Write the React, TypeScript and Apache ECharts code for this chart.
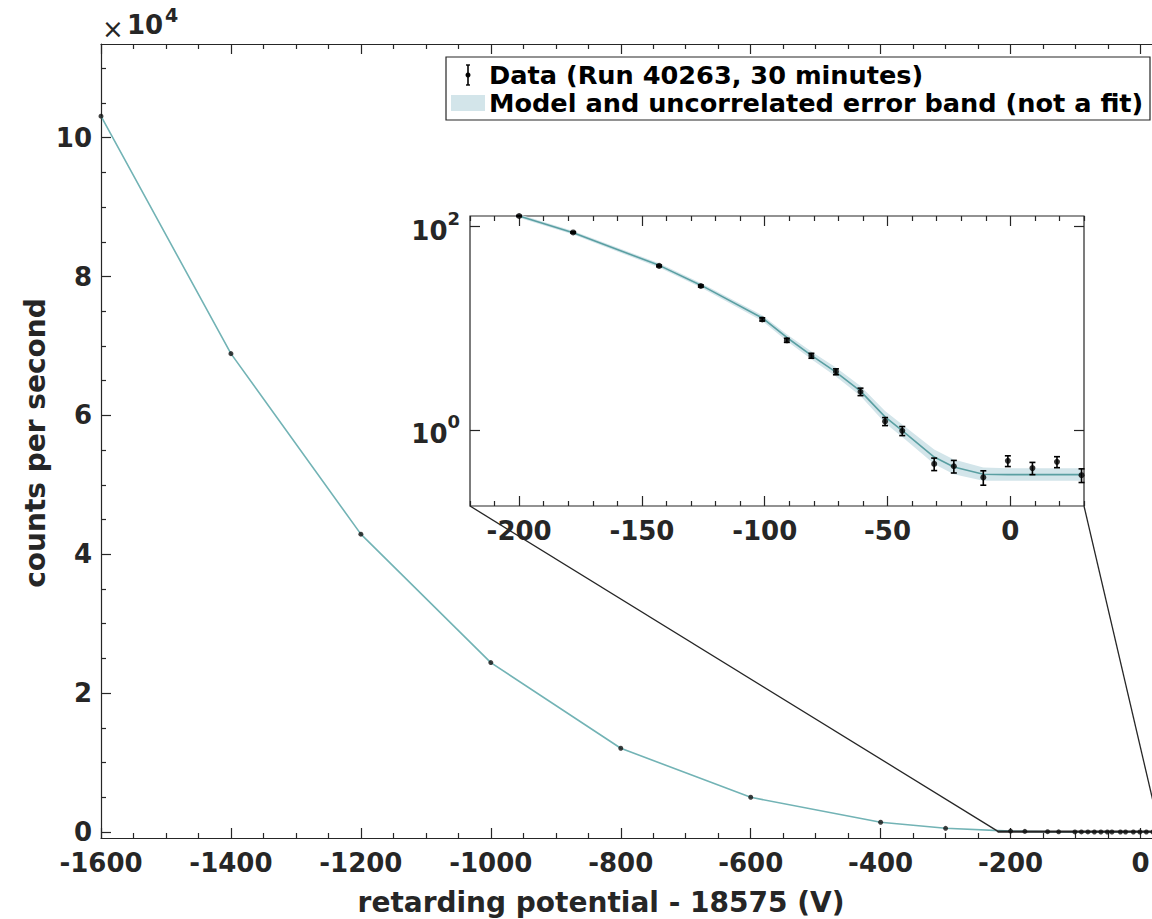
import React, { useEffect, useRef } from 'react';
import * as echarts from 'echarts';

const FONT = 'DejaVu Sans';
const TXT = '#262626';
const AX = '#262626';
const TEAL = '#5a9fa2';
const TEAL_MAIN = '#72b3b5';
const BAND = '#d3e5ea';

// ---- main panel data (counts per second) ----
const mainX = [-1600, -1400, -1200, -1000, -800, -600, -400, -300];
const mainData = [103100, 68900, 42900, 24400, 12060, 5000, 1400, 533];
const mainModel = [103100, 68900, 42900, 24400, 12060, 5000, 1400, 533];

// ---- inset (log) data ----
const insetX = [-200, -178, -143, -126, -101, -91, -81, -71, -61, -51, -44, -31, -23, -11, -1, 9, 19, 29];
const insetData = [127, 87.5, 41, 26, 12.2, 7.6, 5.36, 3.73, 2.37, 1.21, 0.977, 0.462, 0.438, 0.34, 0.495, 0.42, 0.484, 0.358];
const insetErr = [1.5, 1.2, 0.8, 0.6, 0.45, 0.35, 0.3, 0.25, 0.2, 0.11, 0.1, 0.065, 0.062, 0.055, 0.06, 0.058, 0.06, 0.055];
const modelY = [127, 87, 41.5, 26.5, 12.6, 8.1, 5.4, 3.7, 2.4, 1.34, 0.98, 0.54, 0.43, 0.366, 0.362, 0.362, 0.362, 0.362];
const bandLow = [122, 83.5, 39.5, 25.2, 11.8, 7.5, 4.95, 3.35, 2.15, 1.17, 0.85, 0.46, 0.365, 0.315, 0.315, 0.315, 0.315, 0.315];
const bandHigh = [132, 90.5, 43.5, 27.9, 13.4, 8.7, 5.9, 4.1, 2.7, 1.53, 1.13, 0.64, 0.51, 0.425, 0.418, 0.418, 0.418, 0.418];

// ---- axes ranges and ticks ----
const mainXRange = [-1600, 30];
const mainYRange = [-865, 113500];
const mainMajorY = [0, 20000, 40000, 60000, 80000, 100000];
const mainMinorY = [5000, 10000, 15000, 25000, 30000, 35000, 45000, 50000, 55000, 65000, 70000, 75000, 85000, 90000, 95000, 105000, 110000];
const insetXRange = [-220, 30];
const insetYRange = [0.178, 127];
const insetMajorX = [-200, -150, -100, -50, 0];
const insetMinorX = [-220, -210, -190, -180, -170, -160, -140, -130, -120, -110, -90, -80, -70, -60, -40, -30, -20, -10, 10, 20, 30];
const insetMajorY = [1, 100];

const legendLabels = ['Data (Run 40263, 30 minutes)', 'Model and uncorrelated error band (not a fit)'];
const xTitle = 'retarding potential - 18575 (V)';
const yTitle = 'counts per second';

export default function App() {
  const ref = useRef<HTMLDivElement>(null);
  useEffect(() => {
    document.body.style.margin = '0';
    const chart = echarts.init(ref.current!, null, { renderer: 'svg' });
    const lbl = { fontFamily: FONT, fontWeight: 'bold', fontSize: 26, color: TXT };
    const axLine = { show: true, onZero: false, lineStyle: { color: AX, width: 1.2 } };
    const noLine = { show: false, onZero: false };
    const tickMaj = (custom?: number[]) => ({ show: true, inside: true, length: 10, lineStyle: { color: AX, width: 1.2 }, ...(custom ? { customValues: custom } : {}) });
    const tickMin = (custom: number[]) => ({ show: true, inside: true, length: 5, lineStyle: { color: AX, width: 1.2 }, customValues: custom });
    const noSplit = { show: false };

    const allX = mainX.concat(insetX);
    const allData = mainData.concat(insetData);
    const allModel = mainModel.concat(modelY);

    const supRich = {
      b: { fontFamily: FONT, fontWeight: 'bold', fontSize: 26, color: TXT, lineHeight: 34, verticalAlign: 'bottom' },
      s: { fontFamily: FONT, fontWeight: 'bold', fontSize: 18, color: TXT, lineHeight: 18, verticalAlign: 'top' },
    };

    const option: any = {
      animation: false,
      backgroundColor: '#fff',
      grid: [
        { left: 101, top: 44, width: 1059, height: 794, show: false, containLabel: false, outerBoundsMode: 'none' },
        { left: 470, top: 216, width: 614, height: 290, show: true, borderColor: AX, borderWidth: 1.2, backgroundColor: '#fff', containLabel: false, outerBoundsMode: 'none', z: 5 },
      ],
      xAxis: [
        {
          type: 'value', gridIndex: 0, position: 'bottom', min: mainXRange[0], max: mainXRange[1], interval: 200,
          axisLine: axLine, axisTick: tickMaj(),
          minorTick: { show: true, splitNumber: 4, length: 5, lineStyle: { color: AX, width: 1.2 } },
          axisLabel: { ...lbl, margin: 12, showMaxLabel: false, formatter: (v: number) => (v % 200 === 0 && v <= 0 ? String(v) : '') },
          splitLine: noSplit, minorSplitLine: noSplit,
        },
        {
          type: 'value', gridIndex: 0, position: 'top', min: mainXRange[0], max: mainXRange[1], interval: 200,
          axisLine: axLine, axisTick: tickMaj(),
          minorTick: { show: true, splitNumber: 4, length: 5, lineStyle: { color: AX, width: 1.2 } },
          axisLabel: { show: false }, splitLine: noSplit,
        },
        {
          type: 'value', gridIndex: 1, position: 'bottom', min: insetXRange[0], max: insetXRange[1],
          axisLine: noLine, axisTick: tickMaj(insetMajorX),
          axisLabel: { ...lbl, margin: 12, customValues: insetMajorX, formatter: (v: number) => String(v) },
          splitLine: noSplit, z: 6,
        },
        {
          type: 'value', gridIndex: 1, position: 'bottom', min: insetXRange[0], max: insetXRange[1],
          axisLine: noLine, axisTick: tickMin(insetMinorX), axisLabel: { show: false }, splitLine: noSplit, z: 6,
        },
        {
          type: 'value', gridIndex: 1, position: 'top', min: insetXRange[0], max: insetXRange[1],
          axisLine: noLine, axisTick: tickMaj(insetMajorX), axisLabel: { show: false }, splitLine: noSplit, z: 6,
        },
        {
          type: 'value', gridIndex: 1, position: 'top', min: insetXRange[0], max: insetXRange[1],
          axisLine: noLine, axisTick: tickMin(insetMinorX), axisLabel: { show: false }, splitLine: noSplit, z: 6,
        },
      ],
      yAxis: [
        {
          type: 'value', gridIndex: 0, position: 'left', min: mainYRange[0], max: mainYRange[1],
          axisLine: axLine, axisTick: tickMaj(mainMajorY),
          axisLabel: { ...lbl, margin: 9, customValues: mainMajorY, formatter: (v: number) => String(v / 10000) },
          splitLine: noSplit,
        },
        {
          type: 'value', gridIndex: 0, position: 'left', min: mainYRange[0], max: mainYRange[1],
          axisLine: noLine, axisTick: tickMin(mainMinorY), axisLabel: { show: false }, splitLine: noSplit,
        },
        {
          type: 'log', logBase: 10, gridIndex: 1, position: 'left', min: insetYRange[0], max: insetYRange[1],
          axisLine: noLine, axisTick: tickMaj(insetMajorY),
          axisLabel: {
            margin: 10, customValues: insetMajorY, rich: supRich,
            formatter: (v: number) => (Math.abs(v - 1) < 1e-6 ? '{b|10}{s|0}' : Math.abs(v - 100) < 1e-3 ? '{b|10}{s|2}' : ''),
          },
          splitLine: noSplit, minorTick: { show: false }, z: 6,
        },
        {
          type: 'log', logBase: 10, gridIndex: 1, position: 'right', min: insetYRange[0], max: insetYRange[1],
          axisLine: noLine, axisTick: tickMaj(insetMajorY), axisLabel: { show: false },
          splitLine: noSplit, minorTick: { show: false }, z: 6,
        },
      ],
      series: [
        {
          type: 'line', xAxisIndex: 0, yAxisIndex: 0, data: allX.map((x, i) => [x, allModel[i]]),
          symbol: 'none', lineStyle: { color: TEAL_MAIN, width: 1.6 }, z: 3, silent: true,
        },
        {
          type: 'line', xAxisIndex: 0, yAxisIndex: 0,
          data: [[insetXRange[0], 0], [insetXRange[1], 0], [insetXRange[1], insetYRange[1]], [insetXRange[0], insetYRange[1]], [insetXRange[0], 0]],
          symbol: 'none', lineStyle: { color: AX, width: 1.4 }, z: 4, silent: true, clip: false,
        },
        {
          type: 'scatter', xAxisIndex: 0, yAxisIndex: 0, data: allX.map((x, i) => [x, allData[i]]),
          symbol: 'circle', symbolSize: 5, itemStyle: { color: '#111' }, z: 6, clip: false, silent: true,
        },
        {
          type: 'custom', xAxisIndex: 2, yAxisIndex: 2, data: [[insetX[0], modelY[0]]], z: 10, silent: true, clip: false,
          renderItem: (params: any, api: any) => {
            const up = insetX.map((x, i) => api.coord([x, bandHigh[i]]));
            const lo = insetX.map((x, i) => api.coord([x, bandLow[i]])).reverse();
            return { type: 'polygon', shape: { points: up.concat(lo), smooth: 0 }, style: { fill: BAND, stroke: 'none' } };
          },
        },
        {
          type: 'line', xAxisIndex: 2, yAxisIndex: 2, data: insetX.map((x, i) => [x, modelY[i]]),
          symbol: 'none', lineStyle: { color: TEAL, width: 1.6 }, z: 11, silent: true, clip: false,
        },
        {
          type: 'custom', xAxisIndex: 2, yAxisIndex: 2, z: 12, silent: true, clip: false,
          data: insetX.map((x, i) => [x, insetData[i] - insetErr[i], insetData[i] + insetErr[i]]),
          encode: { x: 0, y: [1, 2] },
          renderItem: (params: any, api: any) => {
            const x = api.value(0);
            const lo = api.coord([x, api.value(1)]);
            const hi = api.coord([x, api.value(2)]);
            const cw = 3;
            const st = { stroke: '#000', lineWidth: 1.6 };
            return {
              type: 'group',
              children: [
                { type: 'line', shape: { x1: lo[0], y1: lo[1], x2: hi[0], y2: hi[1] }, style: st },
                { type: 'line', shape: { x1: lo[0] - cw, y1: lo[1], x2: lo[0] + cw, y2: lo[1] }, style: st },
                { type: 'line', shape: { x1: hi[0] - cw, y1: hi[1], x2: hi[0] + cw, y2: hi[1] }, style: st },
              ],
            };
          },
        },
        {
          type: 'scatter', xAxisIndex: 2, yAxisIndex: 2, data: insetX.map((x, i) => [x, insetData[i]]),
          symbol: 'circle', symbolSize: 6, itemStyle: { color: '#000' }, z: 13, clip: false, silent: true,
        },
      ],
    };
    chart.setOption(option);

    const pL = chart.convertToPixel({ seriesIndex: 1 }, [insetXRange[0], insetYRange[1]]) as number[];
    const pR = chart.convertToPixel({ seriesIndex: 1 }, [insetXRange[1], insetYRange[1]]) as number[];
    const qL = chart.convertToPixel({ seriesIndex: 4 }, [insetXRange[0], insetYRange[0]]) as number[];
    const qR = chart.convertToPixel({ seriesIndex: 4 }, [insetXRange[1], insetYRange[0]]) as number[];

    const legX = 446, legY = 57, legW = 704, legH = 63;
    const legFont = { fontFamily: FONT, fontWeight: 'bold', fontSize: 25.6, fill: '#000', verticalAlign: 'middle' };
    chart.setOption({
      graphic: [
        { type: 'line', shape: { x1: qL[0], y1: qL[1], x2: pL[0], y2: pL[1] }, style: { stroke: AX, lineWidth: 1.3 }, z: 4 },
        { type: 'line', shape: { x1: qR[0], y1: qR[1], x2: pR[0], y2: pR[1] }, style: { stroke: AX, lineWidth: 1.3 }, z: 4 },
        { type: 'rect', shape: { x: legX, y: legY, width: legW, height: legH }, style: { fill: '#fff', stroke: AX, lineWidth: 1.2 }, z: 20 },
        { type: 'line', shape: { x1: 468, y1: 65, x2: 468, y2: 85 }, style: { stroke: '#000', lineWidth: 1.6 }, z: 21 },
        { type: 'line', shape: { x1: 466, y1: 65, x2: 470, y2: 65 }, style: { stroke: '#000', lineWidth: 1.4 }, z: 21 },
        { type: 'line', shape: { x1: 466, y1: 85, x2: 470, y2: 85 }, style: { stroke: '#000', lineWidth: 1.4 }, z: 21 },
        { type: 'circle', shape: { cx: 468, cy: 75, r: 2.5 }, style: { fill: '#000' }, z: 21 },
        { type: 'rect', shape: { x: 451, y: 95, width: 34, height: 16 }, style: { fill: BAND }, z: 21 },
        { type: 'text', x: 489, y: 75, style: { ...legFont, text: legendLabels[0] }, z: 21 },
        { type: 'text', x: 489, y: 103, style: { ...legFont, text: legendLabels[1] }, z: 21 },
        { type: 'text', x: 601, y: 902, style: { text: xTitle, fontFamily: FONT, fontWeight: 'bold', fontSize: 28, fill: TXT, align: 'center', verticalAlign: 'middle' }, z: 21 },
        { type: 'text', x: 35, y: 443, rotation: Math.PI / 2, style: { text: yTitle, fontFamily: FONT, fontWeight: 'bold', fontSize: 28, fill: TXT, align: 'center', verticalAlign: 'middle' }, z: 21 },
        { type: 'text', x: 102, y: 29, style: { text: '×', fontFamily: FONT, fontSize: 26, fill: TXT, verticalAlign: 'middle' }, z: 21 },
        { type: 'text', x: 127, y: 25, style: { text: '10', fontFamily: FONT, fontWeight: 'bold', fontSize: 26, fill: TXT, verticalAlign: 'middle' }, z: 21 },
        { type: 'text', x: 165, y: 15, style: { text: '4', fontFamily: FONT, fontWeight: 'bold', fontSize: 19, fill: TXT, verticalAlign: 'middle' }, z: 21 },
      ],
    });
    return () => chart.dispose();
  }, []);
  return <div ref={ref} style={{ width: 1152, height: 919 }} />;
}
